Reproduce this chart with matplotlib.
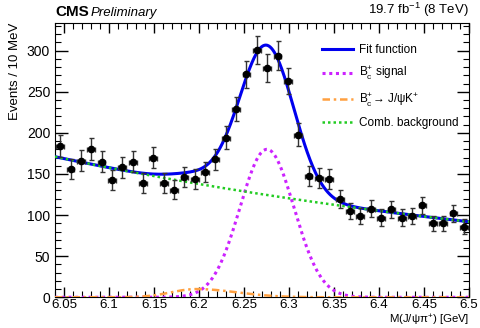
import numpy as np
import matplotlib
matplotlib.use("Agg")
import matplotlib.pyplot as plt
from matplotlib.ticker import MultipleLocator

plt.rcParams['font.family'] = ['Liberation Sans', 'DejaVu Sans']
plt.rcParams['mathtext.fontset'] = 'custom'
plt.rcParams['mathtext.rm'] = 'Liberation Sans'
plt.rcParams['mathtext.it'] = 'Liberation Sans:italic'

# histogram: 40 bins between 6.04 and 6.50 GeV
bin_lo, bin_hi, n_bins = 6.04, 6.50, 40
counts = [184, 156, 166, 180, 165, 143, 158, 165, 139, 170,
          139, 131, 146, 144, 152, 168, 194, 229, 271, 301,
          279, 294, 263, 198, 147, 145, 144, 120, 105, 99,
          108, 97, 107, 97, 99, 112, 90, 90, 102, 86]

# fit components (parameters)
sig_mean, sig_sigma, sig_amp = 6.2755, 0.030, 180.0
refl_mean, refl_sig_l, refl_sig_r, refl_amp = 6.197, 0.028, 0.045, 10.0
bkg_norm, bkg_slope = 171.0, -1.35   # exponential from 6.04

edges = np.linspace(bin_lo, bin_hi, n_bins + 1)
centers = 0.5 * (edges[1:] + edges[:-1])
width = edges[1] - edges[0]
counts = np.array(counts, dtype=float)

m = np.linspace(bin_lo, bin_hi, 600)
signal = sig_amp * np.exp(-0.5 * ((m - sig_mean) / sig_sigma) ** 2)
sig_r = np.where(m < refl_mean, refl_sig_l, refl_sig_r)
refl = refl_amp * np.exp(-0.5 * ((m - refl_mean) / sig_r) ** 2)
bkg = bkg_norm * np.exp(bkg_slope * (m - bin_lo))
total = signal + refl + bkg

fig = plt.figure(figsize=(4.8, 3.28), dpi=100)
ax = fig.add_axes([0.1146, 0.0936, 0.8625, 0.8372])

ax.plot(m, total, color='#0000ee', lw=2.2, label='Fit function', zorder=3)
ax.plot(m, signal, color='#cc22ff', lw=2.2, ls=(0, (1, 1.2)),
        label=r'B$_{\mathrm{c}}^{+}$ signal', zorder=3)
ax.plot(m, refl, color='#ffa040', lw=1.8, ls=(0, (3, 1.5, 1, 1.5)),
        label=r'B$_{\mathrm{c}}^{+}$→ J/ψK$^{+}$', zorder=3)
ax.plot(m, bkg, color='#22cc22', lw=1.8, ls=(0, (1, 1.2)),
        label='Comb. background', zorder=4)

ax.errorbar(centers, counts, yerr=np.sqrt(counts), xerr=width / 2 * 0.75,
            fmt='o', color='black', ms=4.5, ecolor='#333333', elinewidth=1,
            capsize=1.8, capthick=1, zorder=5)

ax.set_xlim(bin_lo, bin_hi)
ax.set_ylim(0, 334)
ax.xaxis.set_minor_locator(MultipleLocator(0.01))
ax.yaxis.set_major_locator(MultipleLocator(50))
ax.yaxis.set_minor_locator(MultipleLocator(10))
ax.set_xticks(np.arange(6.05, 6.501, 0.05))
ax.set_xticklabels(['6.05', '6.1', '6.15', '6.2', '6.25', '6.3',
                    '6.35', '6.4', '6.45', '6.5'])
ax.tick_params(which='both', direction='in', top=True, right=True,
               labelsize=10)
ax.tick_params(which='major', length=9, width=1)
ax.tick_params(which='minor', length=4.5, width=0.8)
ax.tick_params(axis='x', which='major', length=7, pad=1.5, labelsize=9.6)

ax.set_ylabel('Events / 10 MeV', fontsize=9.5, loc='top')
ax.set_xlabel(r'M(J/ψπ$^{+}$) [GeV]', fontsize=8.2, ha='right', va='top')
ax.xaxis.set_label_coords(1.0, -0.058)

ax.text(0.0, 1.012, 'CMS', transform=ax.transAxes, fontsize=11,
        fontweight='bold', ha='left', va='bottom')
ax.text(0.085, 1.012, 'Preliminary', transform=ax.transAxes, fontsize=9.5,
        style='italic', ha='left', va='bottom')
ax.text(1.0, 1.012, r'19.7 fb$^{-1}$ (8 TeV)', transform=ax.transAxes,
        fontsize=9.5, ha='right', va='bottom')

ax.legend(loc='upper left', bbox_to_anchor=(0.62, 0.96), frameon=False,
          fontsize=8.5, handlelength=2.6, labelspacing=0.75,
          handletextpad=0.5)

fig.savefig('out.png', dpi=100)
